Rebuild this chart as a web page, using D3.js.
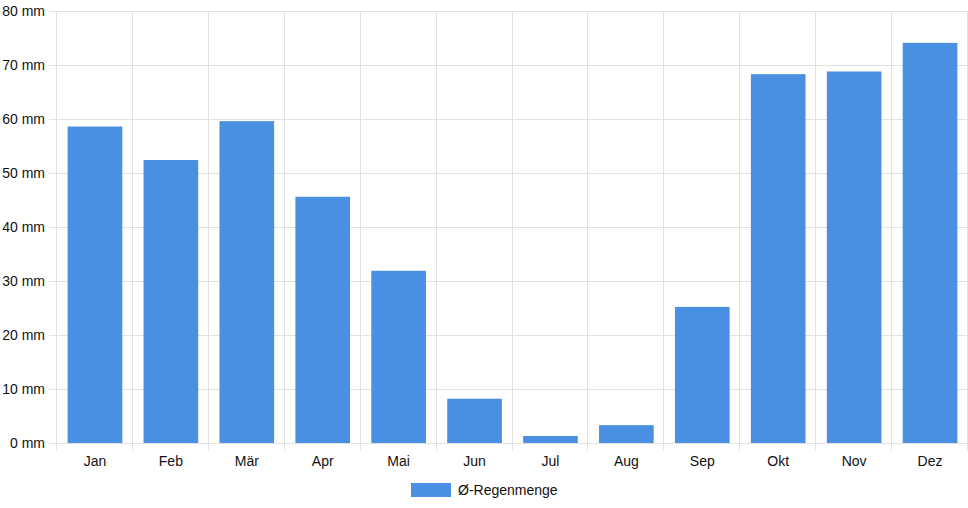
<!DOCTYPE html>
<html>
<head>
<meta charset="utf-8">
<script src="https://cdn.jsdelivr.net/npm/d3@7"></script>
<style>
  body { margin: 0; background: #fff; }
  text { font-family: "Liberation Sans", Arial, Helvetica, sans-serif; fill: #111; }
</style>
</head>
<body>
<div id="chart"></div>
<script>
// monthly rainfall
const months = ["Jan", "Feb", "Mär", "Apr", "Mai", "Jun", "Jul", "Aug", "Sep", "Okt", "Nov", "Dez"];
const rain = [58.6, 52.4, 59.6, 45.6, 31.9, 8.2, 1.3, 3.3, 25.2, 68.3, 68.8, 74.1];
const yTicks = [0, 10, 20, 30, 40, 50, 60, 70, 80];
const seriesName = "Ø-Regenmenge";

const W = 968, H = 508;
const margin = {top: 11, right: 0, bottom: 65, left: 57};
const width = W - margin.left - margin.right,
      height = H - margin.top - margin.bottom;
const barColor = "#4a90e2";
const gridColor = "#e1e1e1";

let svg = d3.select("#chart")
    .append("svg")
    .attr("width", W)
    .attr("height", H)
    .append("g")
    .attr("transform", "translate(" + margin.left + "," + margin.top + ")");

var x = d3.scaleBand()
    .domain(months)
    .range([0, width]);

var y = d3.scaleLinear()
    .domain([0, 80])
    .range([height, 0]);

// horizontal grid + y tick marks
svg.selectAll("hgrid")
    .data(yTicks)
    .enter()
    .append("line")
    .attr("x1", -8)
    .attr("x2", width)
    .attr("y1", d => Math.round(y(d)) + 0.5)
    .attr("y2", d => Math.round(y(d)) + 0.5)
    .attr("stroke", gridColor)
    .attr("stroke-width", 1);

// vertical grid + x tick marks
svg.selectAll("vgrid")
    .data(d3.range(months.length + 1))
    .enter()
    .append("line")
    .attr("x1", i => Math.round(i * x.step()) - 0.5)
    .attr("x2", i => Math.round(i * x.step()) - 0.5)
    .attr("y1", 0)
    .attr("y2", height + 8)
    .attr("stroke", gridColor)
    .attr("stroke-width", 1);

// y labels
svg.selectAll("ylabels")
    .data(yTicks)
    .enter()
    .append("text")
    .attr("x", -12)
    .attr("y", d => y(d))
    .attr("dy", "0.35em")
    .attr("text-anchor", "end")
    .style("font-size", "14px")
    .text(d => d + " mm");

// x labels
svg.selectAll("xlabels")
    .data(months)
    .enter()
    .append("text")
    .attr("x", d => x(d) + x.bandwidth() / 2)
    .attr("y", height + 18)
    .attr("dy", "0.35em")
    .attr("text-anchor", "middle")
    .style("font-size", "14px")
    .text(d => d);

// bars (80% category, 90% bar)
const bw = x.bandwidth() * 0.72;
svg.append("g")
    .selectAll("bar")
    .data(months)
    .enter()
    .append("rect")
    .attr("x", (d) => x(d) + (x.bandwidth() - bw) / 2)
    .attr("width", bw)
    .attr("y", (d, i) => y(rain[i]))
    .attr("height", (d, i) => y(0) - y(rain[i]))
    .style("fill", barColor);

// legend
let legend = d3.select("svg").append("g")
    .attr("transform", "translate(411, 483)");
legend.append("rect")
    .attr("width", 40)
    .attr("height", 14)
    .style("fill", barColor);
legend.append("text")
    .attr("x", 47)
    .attr("y", 7)
    .attr("dy", "0.35em")
    .style("font-size", "14px")
    .text(seriesName);
</script>
</body>
</html>
